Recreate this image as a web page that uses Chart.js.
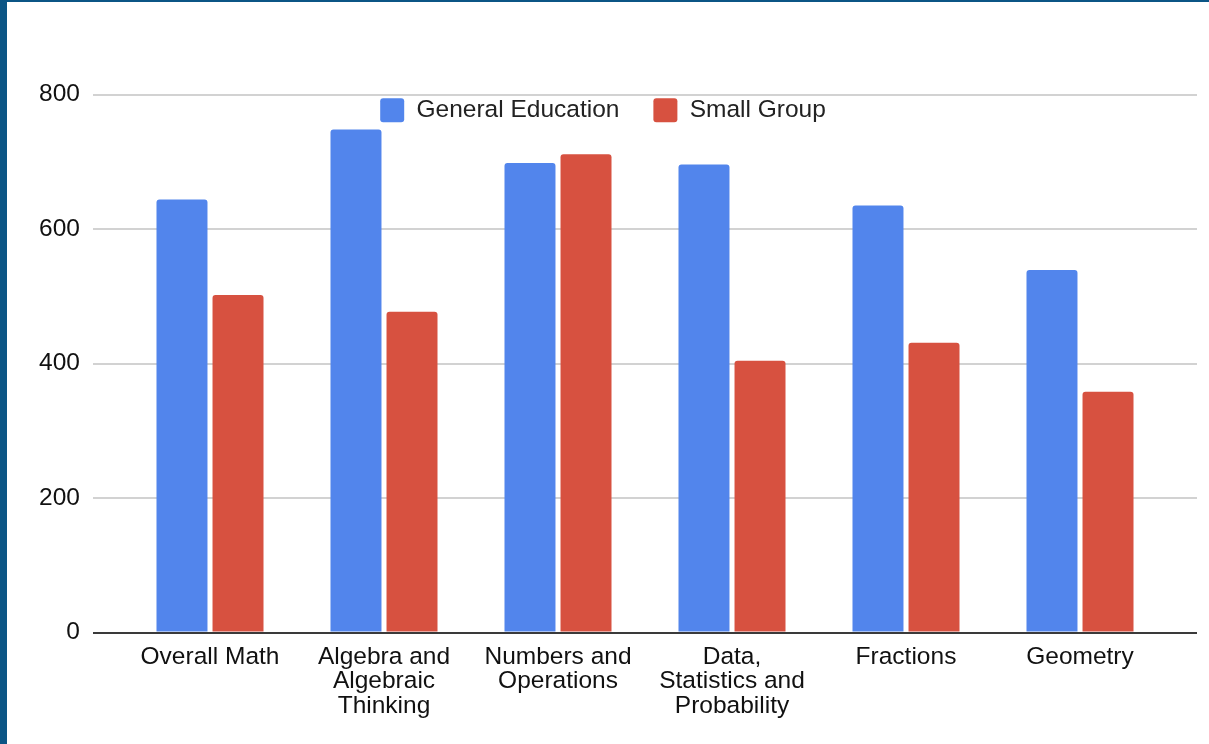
<!DOCTYPE html>
<html>
<head>
<meta charset="utf-8">
<script src="https://cdn.jsdelivr.net/npm/chart.js@4"></script>
<style>
  html, body { margin: 0; padding: 0; }
  body { width: 1209px; height: 744px; background: #0b5585; overflow: hidden; position: relative; }
  #wrap { position: absolute; left: 7px; top: 2px; width: 1202px; height: 742px; background: #fff; }
</style>
</head>
<body>
<div id="wrap"><canvas id="chart"></canvas></div>
<script>
// Data
const categories = [
    'Overall Math',
    ['Algebra and', 'Algebraic', 'Thinking'],
    ['Numbers and', 'Operations'],
    ['Data,', 'Statistics and', 'Probability'],
    'Fractions',
    'Geometry'
];
const generalEducation = [644, 748, 698, 696, 635, 539];
const smallGroup = [502, 477, 711, 404, 431, 358];
const yTicks = [0, 200, 400, 600, 800];

const BLUE = '#5285ec';
const RED = '#d75140';
const FONT = "'Liberation Sans', Arial, sans-serif";
const FONT_SIZE = 24.5;

Chart.defaults.font.family = FONT;
Chart.defaults.font.size = FONT_SIZE;
Chart.defaults.color = '#222';

// grid colour: dark baseline at zero, light grey elsewhere
const gridColor = (ctx) => (ctx.tick && ctx.tick.value === 0) ? '#3a3a3a' : '#d2d2d2';

// legend box is laid out at the top, then moved down into the plot area
const legendSpot = {
    id: 'legendSpot',
    afterLayout(chart) {
        const lg = chart.legend;
        if (!lg) return;
        lg.left = -5;
        lg.right = chart.width - 5;
        lg.width = chart.width;
        lg.top = 62;
        lg.bottom = lg.top + lg.height;
    }
};

const ctx = document.getElementById('chart');
new Chart(ctx.getContext('2d'), {
    type: 'bar',
    data: {
        labels: categories,
        datasets: [
            { label: 'General Education', data: generalEducation, backgroundColor: BLUE, borderWidth: 0, borderRadius: 3 },
            { label: 'Small Group', data: smallGroup, backgroundColor: RED, borderWidth: 0, borderRadius: 3 }
        ]
    },
    options: {
        responsive: true,
        maintainAspectRatio: false,
        animation: false,
        // legend takes about 68px, so top 24 puts the plot top near 92
        layout: { padding: { top: 24, left: 32, right: 12, bottom: 14 } },
        datasets: { bar: { categoryPercentage: 0.644, barPercentage: 0.91 } },
        plugins: {
            tooltip: { enabled: false },
            legend: {
                position: 'top',
                labels: {
                    boxWidth: 24, boxHeight: 24, padding: 34,
                    useBorderRadius: true, borderRadius: 3,
                    color: '#222', font: { size: FONT_SIZE }
                }
            }
        },
        scales: {
            x: {
                grid: { display: false, drawTicks: false },
                border: { display: false },
                ticks: { padding: 12, maxRotation: 0, autoSkip: false, color: '#111', font: { size: FONT_SIZE, lineHeight: 1.0 } }
            },
            y: {
                min: 0, max: 800,
                afterBuildTicks: (s) => { s.ticks = yTicks.map(v => ({ value: v })); },
                afterFit: (s) => { s.width = 84; },
                grid: { color: gridColor, tickColor: gridColor, lineWidth: 2, tickLength: 30 },
                border: { display: false },
                ticks: { padding: 13, color: '#111', font: { size: FONT_SIZE } }
            },
            y2: {
                position: 'right',
                min: 0, max: 800,
                afterBuildTicks: (s) => { s.ticks = yTicks.map(v => ({ value: v })); },
                afterFit: (s) => { s.width = 30; },
                grid: { drawOnChartArea: false, color: gridColor, tickColor: gridColor, lineWidth: 2, tickLength: 30 },
                border: { display: false },
                ticks: { display: false }
            }
        }
    },
    plugins: [legendSpot]
});
</script>
</body>
</html>
